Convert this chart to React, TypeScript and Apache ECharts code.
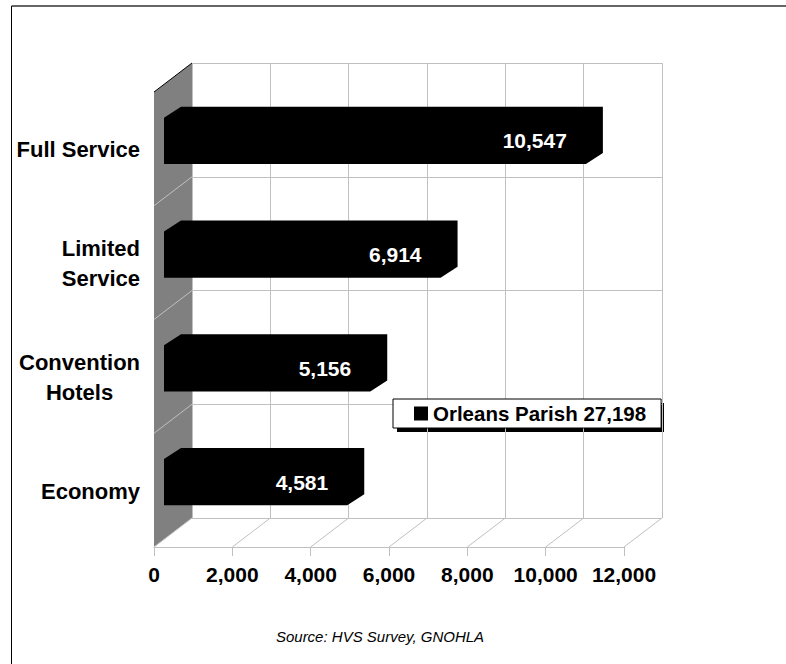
import React, { useEffect, useRef } from 'react';
import * as echarts from 'echarts';

const categories = ['Full Service', 'Limited\nService', 'Convention\nHotels', 'Economy'];
const values = [10547, 6914, 5156, 4581];
const seriesName = 'Orleans Parish 27,198';
const xTicks = [0, 2000, 4000, 6000, 8000, 10000, 12000];
const sourceNote = 'Source: HVS Survey, GNOHLA';

const FONT = '"Liberation Sans", Arial, Helvetica, sans-serif';
const DEPTH_DX = -38;
const DEPTH_DY = 29;
const BAR_DX = 17;
const BAR_DY = -11;
const GRID_COLOR = '#c0c0c0';

const fmt = (v: number) => v.toLocaleString('en-US');

export default function App() {
  const ref = useRef<HTMLDivElement>(null);
  useEffect(() => {
    const chart = echarts.init(ref.current!, null, { renderer: 'svg' });
    const xMin = xTicks[0];
    const xMax = xTicks[xTicks.length - 1];
    const step = xTicks[1] - xTicks[0];

    const wallRender = (params: any, api: any) => {
      const cs = params.coordSys;
      const x = cs.x, y = cs.y, h = cs.height;
      const n = categories.length;
      const children: any[] = [];
      children.push({
        type: 'polygon',
        shape: { points: [[x, y], [x, y + h], [x + DEPTH_DX, y + h + DEPTH_DY], [x + DEPTH_DX, y + DEPTH_DY]] },
        style: { fill: '#808080' },
      });
      for (let k = 1; k < n; k++) {
        const yk = y + (h * k) / n;
        children.push({
          type: 'line',
          shape: { x1: x, y1: yk, x2: x + DEPTH_DX, y2: yk + DEPTH_DY },
          style: { stroke: GRID_COLOR, lineWidth: 1 },
        });
      }
      children.push({
        type: 'line',
        shape: { x1: x, y1: y, x2: x + DEPTH_DX, y2: y + DEPTH_DY },
        style: { stroke: '#000', lineWidth: 1 },
      });
      xTicks.forEach((t) => {
        const px = api.coord([t, 0])[0];
        children.push({
          type: 'line',
          shape: { x1: px, y1: y + h, x2: px + DEPTH_DX, y2: y + h + DEPTH_DY },
          style: { stroke: GRID_COLOR, lineWidth: 1 },
        });
      });
      return { type: 'group', children };
    };

    const barRender = (params: any, api: any) => {
      const v = api.value(0);
      const idx = api.value(1);
      const p0 = api.coord([0, idx]);
      const p1 = api.coord([v, idx]);
      const band = api.size([0, 1])[1];
      const bh = band * 0.405;
      const top = p0[1] - bh / 2;
      const bot = p0[1] + bh / 2;
      return {
        type: 'group',
        children: [
          {
            type: 'polygon',
            shape: {
              points: [
                [p0[0], top],
                [p0[0] + BAR_DX, top + BAR_DY],
                [p1[0] + BAR_DX, top + BAR_DY],
                [p1[0] + BAR_DX, bot + BAR_DY],
                [p1[0], bot],
                [p0[0], bot],
              ],
            },
            style: { fill: '#000' },
          },
          {
            type: 'text',
            x: p1[0] - 19,
            y: p0[1],
            style: {
              text: fmt(v),
              fill: '#fff',
              font: `bold 21px ${FONT}`,
              align: 'right',
              verticalAlign: 'middle',
            },
          },
        ],
      };
    };

    chart.setOption({
      animation: false,
      grid: [
        { left: 192, top: 63, width: 470, height: 455 },
        { left: 154, top: 92, width: 470, height: 455 },
        { left: 164, top: 84, width: 480, height: 455 },
      ],
      xAxis: [
        {
          gridIndex: 0, type: 'value', min: xMin, max: xMax, interval: step,
          axisLabel: { show: false }, axisLine: { show: false }, axisTick: { show: false },
          splitLine: { show: true, lineStyle: { color: GRID_COLOR, width: 1 } },
        },
        {
          gridIndex: 1, type: 'value', min: xMin, max: xMax, interval: step,
          axisLine: { show: true, lineStyle: { color: GRID_COLOR, width: 1 } },
          axisTick: { show: true, length: 9, lineStyle: { color: GRID_COLOR, width: 1 } },
          axisLabel: {
            formatter: (v: number) => fmt(v),
            fontFamily: FONT, fontWeight: 'bold', fontSize: 21, color: '#000', margin: 17,
          },
          splitLine: { show: false },
        },
        { gridIndex: 2, type: 'value', min: xMin, max: xMax, show: false },
      ],
      yAxis: [
        {
          gridIndex: 0, type: 'category', data: categories, inverse: true,
          axisLabel: { show: false }, axisLine: { show: false }, axisTick: { show: false },
          splitLine: { show: true, lineStyle: { color: GRID_COLOR, width: 1 } },
        },
        {
          gridIndex: 1, type: 'category', data: categories, inverse: true,
          axisLine: { show: false }, axisTick: { show: false }, splitLine: { show: false },
          axisLabel: {
            margin: 14,
            align: 'right',
            formatter: (v: string) => v.split('\n').map((l) => `{c|${l}}`).join('\n'),
            rich: {
              c: {
                align: 'center', fontFamily: FONT, fontWeight: 'bold', fontSize: 22,
                color: '#000', lineHeight: 30, padding: [2, 0, 0, 0],
              },
            },
          },
        },
        { gridIndex: 2, type: 'category', data: categories, inverse: true, show: false },
      ],
      legend: {
        data: [{ name: seriesName, icon: 'rect' }],
        left: 393,
        top: 399,
        orient: 'horizontal',
        padding: [4, 15, 4, 21],
        itemWidth: 14,
        itemHeight: 14,
        backgroundColor: '#fff',
        borderColor: '#000',
        borderWidth: 1,
        textStyle: { fontFamily: FONT, fontWeight: 'bold', fontSize: 20.5, color: '#000' },
        selectedMode: false,
      },
      graphic: [
        {
          type: 'rect',
          silent: true,
          z: 0,
          shape: { x: 397, y: 403, width: 267, height: 29 },
          style: { fill: '#000' },
        },
        {
          type: 'line',
          silent: true,
          shape: { x1: 11.5, y1: 6, x2: 800, y2: 6 },
          style: { stroke: '#333', lineWidth: 1.5 },
        },
        {
          type: 'line',
          silent: true,
          shape: { x1: 11.5, y1: 6, x2: 11.5, y2: 664 },
          style: { stroke: '#000', lineWidth: 1 },
        },
        {
          type: 'text',
          x: 380,
          y: 636,
          style: {
            text: sourceNote,
            font: `italic 15px ${FONT}`,
            fill: '#000',
            align: 'center',
            verticalAlign: 'middle',
          },
        },
      ],
      series: [
        {
          type: 'custom',
          name: 'walls',
          xAxisIndex: 0,
          yAxisIndex: 0,
          data: [[0, 0]],
          renderItem: wallRender,
          silent: true,
          z: 1,
        },
        {
          type: 'custom',
          name: seriesName,
          xAxisIndex: 2,
          yAxisIndex: 2,
          data: values.map((v, i) => [v, i]),
          encode: { x: 0, y: 1 },
          itemStyle: { color: '#000' },
          renderItem: barRender,
          z: 3,
        },
      ],
    });
    return () => chart.dispose();
  }, []);
  return (
    <div
      ref={ref}
      style={{ position: 'fixed', left: 0, top: 0, width: 800, height: 664, background: '#fff' }}
    />
  );
}
